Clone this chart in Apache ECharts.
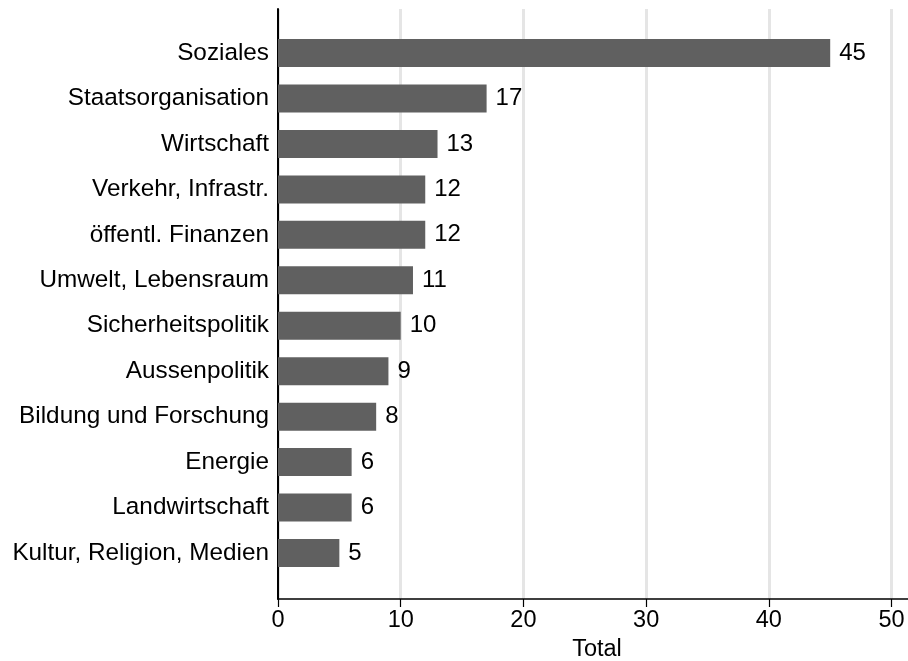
<!DOCTYPE html>
<html>
<head>
<meta charset="utf-8">
<script src="https://cdn.jsdelivr.net/npm/echarts@6/dist/echarts.min.js"></script>
<style>
html,body{margin:0;padding:0;background:#fff;}
#chart{width:908px;height:661px;}
</style>
</head>
<body>
<div id="chart"></div>
<script>
const categories = ['Soziales','Staatsorganisation','Wirtschaft','Verkehr, Infrastr.','öffentl. Finanzen','Umwelt, Lebensraum','Sicherheitspolitik','Aussenpolitik','Bildung und Forschung','Energie','Landwirtschaft','Kultur, Religion, Medien'];
const totals = [45,17,13,12,12,11,10,9,8,6,6,5];
const xTicks = [0,10,20,30,40,50];
const axisTitle = 'Total';

const FONT = '"Liberation Sans", Arial, sans-serif';
const XMAX = 51.34;
const chart = echarts.init(document.getElementById('chart'), null, {renderer:'canvas'});
chart.setOption({
  animation:false,
  backgroundColor:'#ffffff',
  grid:[
    {left:278, right:0, top:30.3, bottom:85.3, containLabel:false, outerBoundsMode:'none'},
    {left:278, right:0, top:9, bottom:62, containLabel:false, outerBoundsMode:'none'}
  ],
  xAxis:[
    {gridIndex:0, type:'value', min:0, max:XMAX, show:false},
    {gridIndex:1, type:'value', min:0, max:XMAX, interval:10,
     axisLine:{show:true, lineStyle:{color:'#000', width:1.5}},
     axisTick:{show:true, length:8, lineStyle:{color:'#000', width:1.2},
       customValues: xTicks},
     axisLabel:{fontFamily:FONT, fontSize:23.5, color:'#000', margin:10,
       customValues: xTicks,
       formatter:v => xTicks.indexOf(v) >= 0 ? String(v) : ''},
     splitLine:{show:true, lineStyle:{color:'#e5e5e5', width:3}},
     name:axisTitle, nameLocation:'middle', nameGap:36,
     nameTextStyle:{fontFamily:FONT, fontSize:23.5, color:'#000', padding:[0,0,0,8]}
    }
  ],
  yAxis:[
    {gridIndex:0, type:'category', data:categories, inverse:true,
     axisLine:{show:false}, axisTick:{show:false}, splitLine:{show:false},
     axisLabel:{fontFamily:FONT, fontSize:24.3, color:'#000', margin:9, padding:[5,0,0,0]}},
    {gridIndex:1, type:'value', min:0, max:1,
     axisLine:{show:true, lineStyle:{color:'#000', width:2}},
     axisTick:{show:false}, axisLabel:{show:false}, splitLine:{show:false}}
  ],
  series:[
    {type:'bar', xAxisIndex:0, yAxisIndex:0, data:totals, barWidth:28,
     itemStyle:{color:'#606060'},
     label:{show:true, position:'right', distance:9, fontFamily:FONT, fontSize:24, color:'#000', padding:[5,0,0,0]},
     z:3}
  ]
});
</script>
</body>
</html>
